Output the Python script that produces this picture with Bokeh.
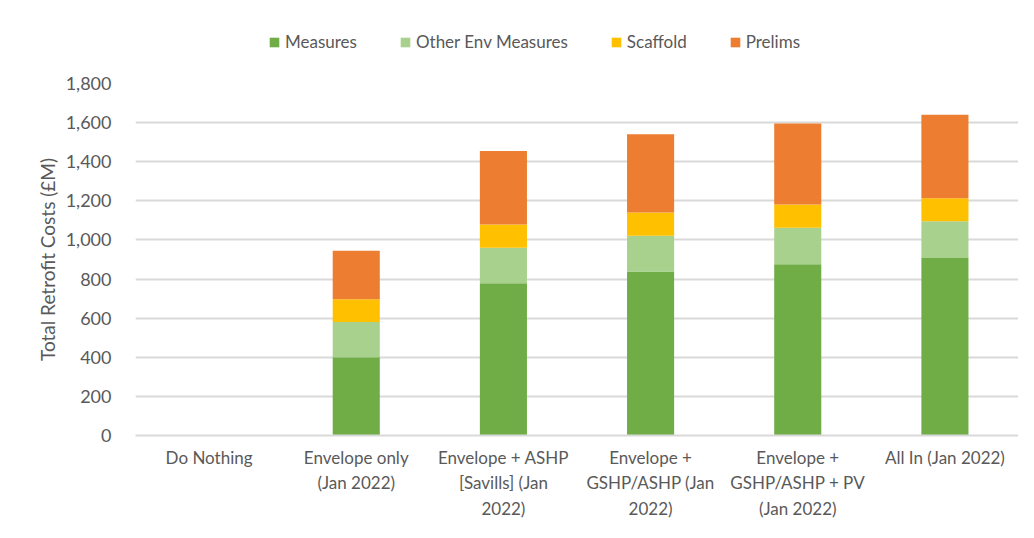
from bokeh.plotting import figure
from bokeh.layouts import column
from bokeh.models import ColumnDataSource, Legend, LegendItem, NumeralTickFormatter, FixedTicker
from bokeh.embed import file_html
from bokeh.resources import INLINE

categories = ["Do Nothing", "Envelope only\n(Jan 2022)", "Envelope + ASHP\n[Savills] (Jan\n2022)",
              "Envelope +\nGSHP/ASHP (Jan\n2022)", "Envelope +\nGSHP/ASHP + PV\n(Jan 2022)", "All In (Jan 2022)"]
measures = [0, 400, 779, 838, 876, 908]
other_env = [0, 180, 181, 183, 186, 188]
scaffold = [0, 117, 119, 119, 119, 117]
prelims = [0, 248, 376, 400, 414, 427]
series = ["Measures", "Other Env Measures", "Scaffold", "Prelims"]
colors = ["#70AD47", "#A9D18E", "#FFC000", "#ED7D31"]

src = ColumnDataSource(dict(cat=categories, Measures=measures, **{"Other Env Measures": other_env},
                            Scaffold=scaffold, Prelims=prelims))

FONT = "Lato"
TXT = "#595959"

p = figure(x_range=categories, y_range=(0, 1800), width=1018, height=458,
           output_backend="svg", toolbar_location=None,
           min_border_left=135, min_border_right=0, min_border_top=19, min_border_bottom=87)

renderers = p.vbar_stack(series, x="cat", width=0.32, color=colors, source=src, line_color=None)

p.yaxis.ticker = FixedTicker(ticks=list(range(0, 1801, 200)))
p.yaxis.formatter = NumeralTickFormatter(format="0,0")
p.yaxis.axis_label = "Total Retrofit Costs (£M)"
p.yaxis.axis_label_text_font = FONT
p.yaxis.axis_label_text_font_size = "19px"
p.yaxis.axis_label_text_font_style = "normal"
p.yaxis.axis_label_text_color = TXT
p.yaxis.axis_label_standoff = 4
p.yaxis.axis_line_color = None
p.yaxis.major_tick_line_color = None
p.yaxis.minor_tick_line_color = None
p.yaxis.major_label_text_font = FONT
p.yaxis.major_label_text_font_size = "18px"
p.yaxis.major_label_text_color = TXT
p.yaxis.major_label_standoff = 18

p.xaxis.axis_line_color = "#D9D9D9"
p.xaxis.axis_line_width = 2
p.xaxis.major_tick_line_color = None
p.xaxis.minor_tick_line_color = None
p.xaxis.major_label_text_font = FONT
p.xaxis.major_label_text_font_size = "17px"
p.xaxis.major_label_text_color = TXT
p.xaxis.major_label_standoff = 5
p.xaxis.major_label_text_line_height = 1.22

p.xgrid.grid_line_color = None
p.ygrid.grid_line_color = "#D9D9D9"
p.ygrid.grid_line_width = 2
p.outline_line_color = None
p.border_fill_color = "white"

# legend strip above the chart
top = figure(width=1018, height=64, x_range=(0, 1), y_range=(0, 1),
             x_axis_type=None, y_axis_type=None, output_backend="svg", toolbar_location=None,
             min_border=0, min_border_left=0, min_border_right=0, min_border_top=0, min_border_bottom=0)
top.grid.visible = False
top.outline_line_color = None
dummies = [top.vbar(x=[10], top=[10], width=0.1, color=c, line_color=None) for c in colors]
legend = Legend(items=[LegendItem(label=s, renderers=[r]) for s, r in zip(series, dummies)],
                orientation="horizontal", location=(133, 12),
                label_text_font=FONT, label_text_font_size="17px", label_text_color=TXT,
                glyph_width=12, glyph_height=12, spacing=42, label_standoff=5,
                padding=10, margin=0,
                border_line_color=None, background_fill_alpha=0)
top.add_layout(legend, "center")

layout = column(top, p, spacing=0)
open("out.html", "w").write(file_html(layout, INLINE))
